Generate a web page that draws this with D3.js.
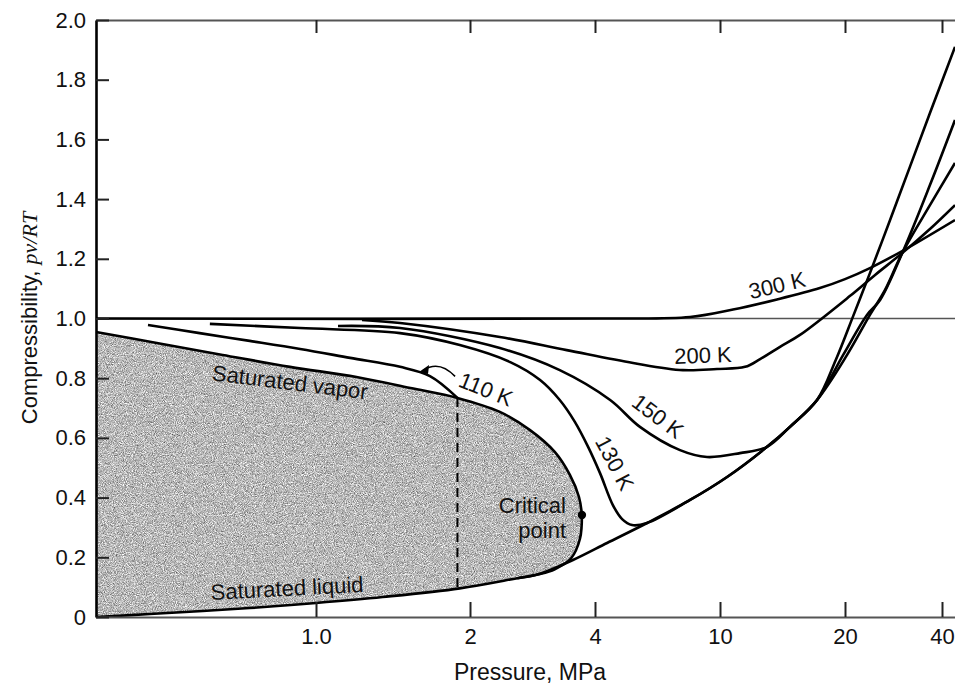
<!DOCTYPE html>
<html>
<head>
<meta charset="utf-8">
<script src="https://cdn.jsdelivr.net/npm/d3@7"></script>
<style>
body { margin: 0; background: #fff; }
svg { display: block; font-family: "Liberation Sans", Arial, Helvetica, sans-serif; }
</style>
</head>
<body>
<svg id="chart" width="955" height="685"></svg>
<script>
// nitrogen compressibility chart: pressure in MPa, z = pv/RT
var xTicks = [1, 2, 4, 10, 20, 40];
var xTickLabels = ["1.0", "2", "4", "10", "20", "40"];
var yTicks = [0, 0.2, 0.4, 0.6, 0.8, 1.0, 1.2, 1.4, 1.6, 1.8, 2.0];
var yTickLabels = ["0", "0.2", "0.4", "0.6", "0.8", "1.0", "1.2", "1.4", "1.6", "1.8", "2.0"];

// saturation dome
var satVaporP = [0.37, 0.487, 0.656, 0.889, 1.20, 1.53, 1.89, 2.36, 2.79, 3.20, 3.48, 3.66, 3.72];
var satVaporZ = [0.955, 0.918, 0.878, 0.838, 0.804, 0.767, 0.734, 0.687, 0.626, 0.553, 0.476, 0.402, 0.342];
var satLiquidP = [0.37, 0.472, 0.741, 1.0, 1.35, 1.91, 2.60, 2.95, 3.20, 3.50, 3.68, 3.72];
var satLiquidZ = [0.0, 0.010, 0.030, 0.047, 0.067, 0.096, 0.130, 0.144, 0.160, 0.196, 0.262, 0.342];
var critP = 3.72, critZ = 0.342;

// isotherms
var iso110VaporP = [0.468, 0.591, 0.741, 0.931, 1.166, 1.46, 1.67, 1.89];
var iso110VaporZ = [0.978, 0.951, 0.925, 0.898, 0.868, 0.838, 0.807, 0.734];
var iso110SatLiqZ = 0.096;
var iso110LiquidP = [2.60, 2.95, 3.54, 4.37, 5.86, 8.03, 10.4, 12.98, 14.74, 17.13, 19.0, 21.2, 23.9, 27.6, 31.8, 37.2, 43.8];
var iso110LiquidZ = [0.130, 0.145, 0.191, 0.248, 0.315, 0.392, 0.469, 0.570, 0.637, 0.727, 0.861, 1.008, 1.152, 1.330, 1.508, 1.705, 1.910];

var iso130P = [0.619, 0.931, 1.46, 1.91, 2.50, 2.95, 3.29, 3.58, 3.85, 4.15, 4.56, 4.88, 5.25, 5.86, 8.03, 10.4, 12.98, 14.74, 17.13, 19.8, 23.4, 25.7, 30.1, 36.7, 43.8];
var iso130Z = [0.982, 0.968, 0.951, 0.911, 0.854, 0.794, 0.727, 0.653, 0.570, 0.482, 0.375, 0.328, 0.308, 0.315, 0.392, 0.469, 0.570, 0.637, 0.727, 0.878, 1.012, 1.062, 1.219, 1.447, 1.665];

var iso150P = [1.104, 1.46, 2.36, 3.29, 4.47, 5.56, 7.46, 9.09, 11.17, 12.98, 14.74, 17.13, 20.3, 23.9, 26.6, 30.1, 36.7, 43.8];
var iso150Z = [0.975, 0.968, 0.901, 0.827, 0.727, 0.637, 0.559, 0.536, 0.549, 0.570, 0.637, 0.727, 0.878, 1.012, 1.095, 1.219, 1.380, 1.521];

var iso200P = [1.23, 1.46, 2.36, 3.42, 5.29, 7.62, 9.78, 11.49, 12.49, 13.95, 15.58, 20.7, 24.8, 30.1, 36.7, 43.8];
var iso200Z = [0.995, 0.985, 0.938, 0.894, 0.851, 0.827, 0.831, 0.838, 0.864, 0.905, 0.945, 1.075, 1.146, 1.219, 1.300, 1.380];

var iso300P = [0.37, 4.15, 8.03, 10.75, 13.72, 17.4, 20.0, 23.9, 30.1, 43.8];
var iso300Z = [1.0, 1.0, 1.005, 1.030, 1.064, 1.102, 1.132, 1.169, 1.226, 1.330];

var svg = d3.select("#chart");
var plotL = 96, plotR = 955, plotT = 20, plotB = 617;

// the printed pressure axis is not evenly spaced, so the log scale is piecewise
var x = d3.scaleLog()
    .domain([0.37, 1, 2, 4, 10, 20, 40, 43.8])
    .range([plotL, 316, 470, 595, 720, 845, 942, plotR]);
var y = d3.scaleLinear().domain([0, 2]).range([plotB, plotT]);

function zip(ps, zs) { return ps.map(function(p, i) { return [p, zs[i]]; }); }

var line = d3.line()
    .x(function(d) { return x(d[0]); })
    .y(function(d) { return y(d[1]); })
    .curve(d3.curveCatmullRom.alpha(0.5));

// grainy grey fill for the two-phase region
var defs = svg.append("defs");
var f = defs.append("filter").attr("id", "grain").attr("color-interpolation-filters", "sRGB");
f.append("feTurbulence").attr("type", "fractalNoise").attr("baseFrequency", 1.1)
    .attr("numOctaves", 2).attr("seed", 4).attr("result", "noise");
f.append("feColorMatrix").attr("in", "noise").attr("type", "saturate").attr("values", 0).attr("result", "gray");
var ct = f.append("feComponentTransfer").attr("in", "gray").attr("result", "g2");
["feFuncR", "feFuncG", "feFuncB"].forEach(function(c) {
  ct.append(c).attr("type", "linear").attr("slope", 1.25).attr("intercept", 0.1);
});
ct.append("feFuncA").attr("type", "linear").attr("slope", 0).attr("intercept", 1);
f.append("feComposite").attr("in", "g2").attr("in2", "SourceGraphic").attr("operator", "in");

var vapor = zip(satVaporP, satVaporZ);
var liquid = zip(satLiquidP, satLiquidZ);
var dome = vapor.concat(liquid.slice(0, -1).reverse());

svg.append("path")
    .attr("d", line(dome) + "Z")
    .attr("fill", "#9a9a9a")
    .attr("filter", "url(#grain)");

// reference line z = 1
svg.append("line")
    .attr("x1", plotL).attr("x2", plotR)
    .attr("y1", y(1)).attr("y2", y(1))
    .attr("stroke", "#555").attr("stroke-width", 1.6);

// dome outline
svg.append("path").attr("d", line(vapor)).attr("fill", "none")
    .attr("stroke", "#000").attr("stroke-width", 2.6);
svg.append("path").attr("d", line(liquid)).attr("fill", "none")
    .attr("stroke", "#000").attr("stroke-width", 2.6);

// 110 K through the dome
var satP110 = iso110VaporP[iso110VaporP.length - 1];
svg.append("line")
    .attr("x1", x(satP110)).attr("x2", x(satP110))
    .attr("y1", y(iso110VaporZ[iso110VaporZ.length - 1])).attr("y2", y(iso110SatLiqZ))
    .attr("stroke", "#000").attr("stroke-width", 2).attr("stroke-dasharray", "9,6");

var isotherms = [
  zip(iso110VaporP, iso110VaporZ),
  zip(iso110LiquidP, iso110LiquidZ),
  zip(iso130P, iso130Z),
  zip(iso150P, iso150Z),
  zip(iso200P, iso200Z),
  zip(iso300P, iso300Z)
];
svg.append("g").selectAll("path").data(isotherms).enter().append("path")
    .attr("d", line)
    .attr("fill", "none")
    .attr("stroke", "#000")
    .attr("stroke-width", 2.6)
    .attr("stroke-linejoin", "round");

svg.append("circle")
    .attr("cx", x(critP)).attr("cy", y(critZ)).attr("r", 4.2).attr("fill", "#000");

// axes
var gx = svg.append("g").attr("transform", "translate(0," + plotB + ")")
    .call(d3.axisBottom(x).tickValues(xTicks)
      .tickFormat(function(d, i) { return xTickLabels[i]; })
      .tickSizeInner(-15).tickSizeOuter(0).tickPadding(11));
gx.select(".domain").attr("stroke", "#555").attr("stroke-width", 1.8);

var gt = svg.append("g").attr("transform", "translate(0," + plotT + ")")
    .call(d3.axisTop(x).tickValues(xTicks).tickFormat("").tickSizeInner(-13).tickSizeOuter(0));
gt.select(".domain").attr("stroke", "#555").attr("stroke-width", 1.8);

var gy = svg.append("g").attr("transform", "translate(" + plotL + ",0)")
    .call(d3.axisLeft(y).tickValues(yTicks)
      .tickFormat(function(d, i) { return yTickLabels[i]; })
      .tickSizeInner(-13).tickSizeOuter(0).tickPadding(10));
gy.select(".domain").attr("stroke", "#000").attr("stroke-width", 2.6);

[gx, gt, gy].forEach(function(g) {
  g.selectAll(".tick line").attr("stroke", "#222").attr("stroke-width", 2);
  g.selectAll("text").attr("fill", "#111").style("font-size", "22px")
    .style("font-family", "'Liberation Sans', Arial, sans-serif");
});

svg.append("text")
    .attr("x", 530).attr("y", 680)
    .attr("text-anchor", "middle")
    .style("font-size", "23px").attr("fill", "#111")
    .text("Pressure, MPa");

var yl = svg.append("text")
    .attr("transform", "translate(37,318) rotate(-90)")
    .attr("text-anchor", "middle")
    .style("font-size", "22px").attr("fill", "#111");
yl.append("tspan").text("Compressibility, ");
yl.append("tspan").style("font-family", "'Liberation Serif', 'Times New Roman', serif")
    .style("font-style", "italic").text("pv/RT");

// curve labels
var labels = [
  { t: "300 K", cx: 777, cy: 285, r: -13 },
  { t: "200 K", cx: 703, cy: 355, r: -2 },
  { t: "150 K", cx: 658, cy: 416, r: 37 },
  { t: "130 K", cx: 615, cy: 463, r: 62 },
  { t: "110 K", cx: 486, cy: 389, r: 22 },
  { t: "Saturated vapor", cx: 290, cy: 382, r: 7 },
  { t: "Saturated liquid", cx: 287, cy: 588, r: -3 }
];
svg.append("g").selectAll("text").data(labels).enter().append("text")
    .attr("transform", function(d) { return "translate(" + d.cx + "," + d.cy + ") rotate(" + d.r + ")"; })
    .attr("text-anchor", "middle")
    .attr("dy", "0.36em")
    .style("font-size", "22px")
    .attr("fill", "#111")
    .text(function(d) { return d.t; });

svg.append("text").attr("x", 566).attr("y", 513).attr("text-anchor", "end")
    .style("font-size", "22px").attr("fill", "#111").text("Critical");
svg.append("text").attr("x", 566).attr("y", 538).attr("text-anchor", "end")
    .style("font-size", "22px").attr("fill", "#111").text("point");

// arrow from the 110 K label to its curve
var ap = d3.path();
ap.moveTo(x(1.87), y(0.806));
ap.quadraticCurveTo(x(1.74), y(0.862), x(1.62), y(0.826));
svg.append("path").attr("d", ap.toString()).attr("fill", "none")
    .attr("stroke", "#000").attr("stroke-width", 1.6);
var tipX = x(1.59), tipY = y(0.821);
svg.append("path")
    .attr("d", "M" + tipX + "," + tipY + "l10,-7l-1,9z")
    .attr("fill", "#000");
</script>
</body>
</html>
